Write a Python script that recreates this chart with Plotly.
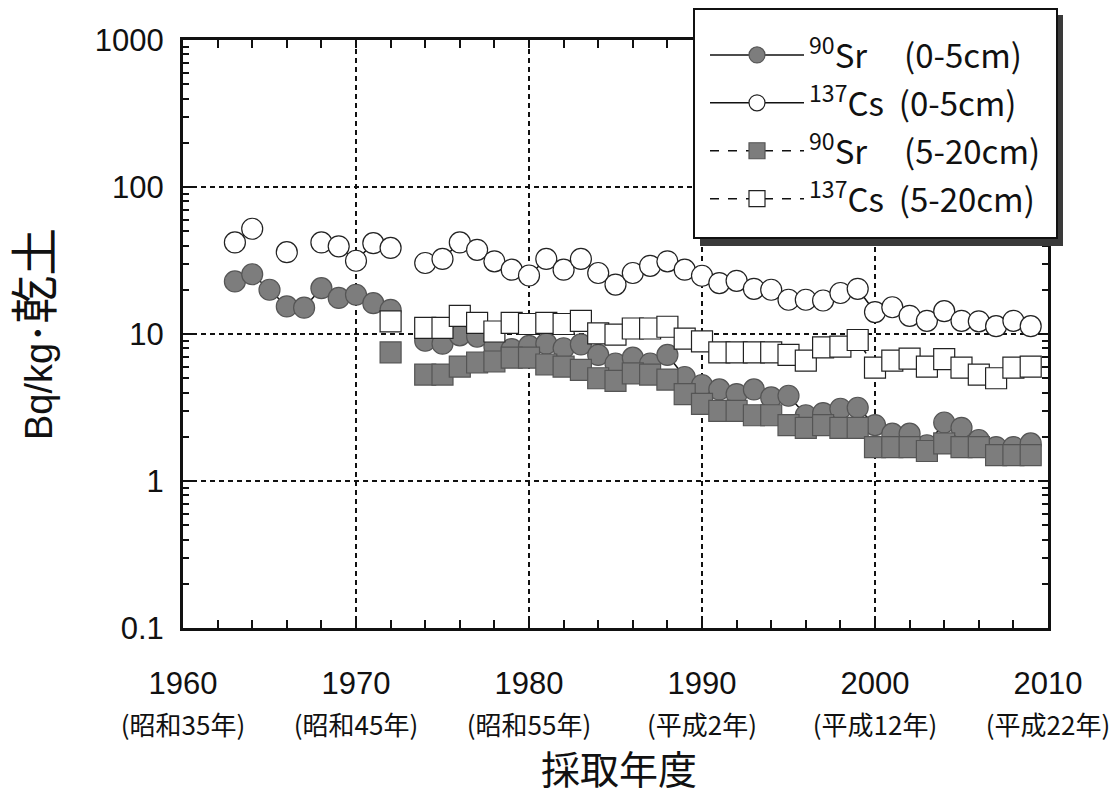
import plotly.graph_objects as go

years = list(range(1963, 2010))

sr_0_5 = [22.8, 25.5, 20.0, 15.4, 15.1, 20.5, 17.6, 18.5, 16.2, 14.6, None,
          9.0, 8.6, 9.8, 9.6, 8.2, 7.9, 8.3, 8.6, 8.0, 8.5, 7.2, 6.3, 6.9, 6.3, 7.2,
          5.1, 4.5, 4.2, 3.9, 4.2, 3.7, 3.8, 2.8, 2.9, 3.1, 3.15,
          2.4, 2.1, 2.1, 1.75, 2.5, 2.3, 1.9, 1.7, 1.7, 1.8]

cs_0_5 = [42, 52, None, 36, None, 42, 39.5, 31.5, 41.5, 38.5, None,
          30.4, 32.4, 42, 37.4, 31.2, 27.4, 25, 32.4, 27.4, 32.4, 26, 21.7, 26, 29.1, 31.2,
          27.4, 24.9, 22.2, 23, 20.3, 20, 17.1, 17.1, 16.9, 19, 20.3,
          14.1, 15.2, 13.3, 12.3, 14.3, 12.3, 12.2, 11.3, 12.3, 11.3]

sr_5_20 = [None] * 9 + [7.5, None,
           5.3, 5.3, 6.0, 6.4, 6.5, 6.9, 6.9, 6.2, 6.0, 5.7, 5.0, 4.8, 5.4, 5.3, 4.9,
           3.9, 3.35, 3.0, 3.0, 2.8, 2.8, 2.4, 2.3, 2.4, 2.3, 2.3,
           1.7, 1.7, 1.7, 1.6, 1.8, 1.7, 1.7, 1.5, 1.5, 1.5]

cs_5_20 = [None] * 9 + [12.2, None,
           11, 11, 13.3, 11.9, 10.4, 11.9, 11.7, 11.9, 11.7, 12.3, 10.1, 9.9, 10.9, 10.9, 11.2,
           9.3, 8.9, 7.5, 7.5, 7.5, 7.5, 7.2, 6.6, 8.1, 8.2, 9.1,
           5.9, 6.6, 6.8, 6.0, 6.75, 5.9, 5.3, 5.0, 5.9, 6.0]

x_tick_years = [1960, 1970, 1980, 1990, 2000, 2010]
x_tick_era = ["(昭和35年)", "(昭和45年)", "(昭和55年)", "(平成2年)", "(平成12年)", "(平成22年)"]
y_tick_vals = [0.1, 1, 10, 100, 1000]
y_tick_text = ["0.1", "1", "10", "100", "1000"]
y_title = "Bq/kg･<span style='font-size:48px;font-family:Noto Sans CJK JP'>乾土</span>"
x_title = "採取年度"

legend_names = [
    "<sup>90</sup>Sr\u00a0\u00a0\u00a0\u00a0\u00a0(0-5cm)",
    "<sup>137</sup>Cs\u00a0\u00a0(0-5cm)",
    "<sup>90</sup>Sr\u00a0\u00a0\u00a0\u00a0\u00a0(5-20cm)",
    "<sup>137</sup>Cs\u00a0\u00a0(5-20cm)",
]

GRAY = "#7d7d7d"
fig = go.Figure()

specs = [
    (sr_0_5, "circle", GRAY, "#555555", "solid"),
    (cs_0_5, "circle", "white", "#222222", "solid"),
    (sr_5_20, "square", GRAY, "#555555", "dash"),
    (cs_5_20, "square", "white", "#222222", "dash"),
]
for i, (vals, sym, fill, edge, dash) in enumerate(specs):
    fig.add_trace(go.Scatter(
        x=years, y=vals, name=legend_names[i], legendgroup=f"g{i}",
        mode="lines+markers", connectgaps=False,
        line=dict(color="#111111", width=1.5, dash=dash),
        marker=dict(symbol=sym, size=21, color=fill, line=dict(color=edge, width=1.2)),
    ))

ticktext_x = [
    f"<span style='font-size:31px'>{y}</span><br><span style='font-size:26px;font-family:Noto Sans CJK JP'>{e}</span>"
    for y, e in zip(x_tick_years, x_tick_era)
]

L, R, T, B = 183, 1048, 40, 628
W, H = 1111, 795

def px(xp):
    return (xp - L) / (R - L)

def py(yp):
    return (B - yp) / (B - T)

# legend frame: drop shadow + white box with black border
fig.add_shape(type="rect", xref="paper", yref="paper",
              x0=px(700), x1=px(1063), y0=py(246), y1=py(15),
              fillcolor="#3a3a3a", line=dict(width=0), layer="above")
fig.add_shape(type="rect", xref="paper", yref="paper",
              x0=px(694), x1=px(1057), y0=py(238), y1=py(9),
              fillcolor="white", line=dict(color="#111111", width=2), layer="above")

# y-axis title
fig.add_annotation(text=y_title, xref="paper", yref="paper",
                   x=px(31), y=py(334), xanchor="center", yanchor="middle",
                   textangle=-90, showarrow=False,
                   font=dict(family="Liberation Sans, Noto Sans CJK JP", size=38, color="#111111"))
# x-axis title
fig.add_annotation(text=x_title, xref="paper", yref="paper",
                   x=px(619), y=py(767), xanchor="center", yanchor="middle",
                   showarrow=False,
                   font=dict(family="Noto Sans CJK JP", size=39, color="#111111"))

fig.update_layout(
    width=W, height=H,
    margin=dict(l=L, r=W - R, t=T, b=H - B, autoexpand=False),
    paper_bgcolor="white", plot_bgcolor="white",
    font=dict(family="Liberation Sans, Noto Sans CJK JP", color="#111111", size=31),
    showlegend=True,
    legend=dict(
        x=px(705), xanchor="left", y=py(27), yanchor="top",
        bgcolor="rgba(0,0,0,0)", borderwidth=0,
        font=dict(family="Noto Sans CJK JP", size=33, color="#111111"),
        itemwidth=94, tracegroupgap=2, traceorder="grouped",
    ),
    xaxis=dict(
        range=[1960, 2010], tickmode="array", tickvals=x_tick_years, ticktext=ticktext_x,
        ticks="inside", ticklen=8, tickwidth=2, tickcolor="#111111",
        showline=True, linewidth=3, linecolor="#111111", mirror="allticks",
        showgrid=True, gridcolor="#111111", gridwidth=2, griddash="5px,4px",
        zeroline=False, ticklabelstandoff=26,
        minor=dict(dtick=2, ticks="inside", ticklen=8, tickwidth=1.5, tickcolor="#111111", showgrid=False),
    ),
    yaxis=dict(
        type="log", range=[-1, 3], tickmode="array", tickvals=y_tick_vals, ticktext=y_tick_text,
        ticks="inside", ticklen=10, tickwidth=2, tickcolor="#111111",
        showline=True, linewidth=3, linecolor="#111111", mirror="allticks",
        showgrid=True, gridcolor="#111111", gridwidth=2, griddash="5px,4px",
        zeroline=False, ticklabelstandoff=10,
        minor=dict(dtick="D1", ticks="inside", ticklen=6, tickwidth=1.5, tickcolor="#111111", showgrid=False),
    ),
)

fig.write_html("out.html")
